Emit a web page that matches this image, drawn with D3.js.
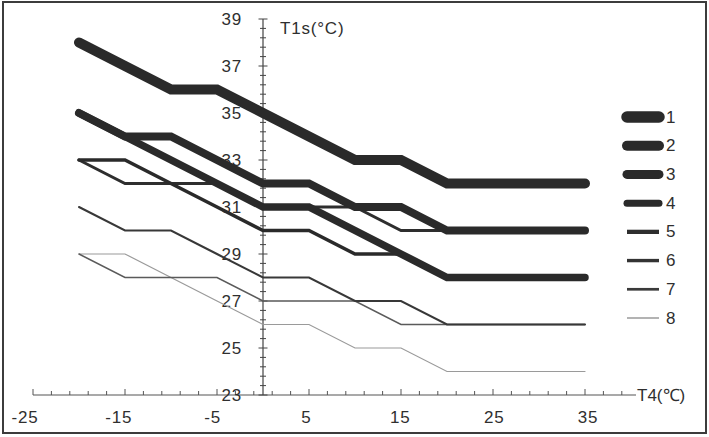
<!DOCTYPE html>
<html lang="en">
<head>
  <meta charset="UTF-8">
  <title>T1s vs T4</title>
  <script src="https://d3js.org/d3.v7.min.js"></script>
  <style>
    body { margin: 0; background: #fff; }
    svg { display: block; }
    text { font-family: "Liberation Sans", Arial, sans-serif; fill: #2f2f2f; }
  </style>
</head>
<body>
<script>
  // T4 break points (shared by all curves)
  const t4 = [-20, -15, -10, -5, 0, 5, 10, 15, 20, 35];

  // T1s values for each curve at the break points
  const curve1 = [38, 37, 36, 36, 35, 34, 33, 33, 32, 32];
  const curve2 = [35, 34, 34, 33, 32, 32, 31, 31, 30, 30];
  const curve3 = [35, 34, 33, 32, 31, 31, 30, 29, 28, 28];
  const curve4 = [33, 33, 32, 31, 30, 30, 29, 29, 28, 28];
  const curve5 = [33, 32, 32, 32, 31, 31, 31, 30, 30, 30];
  const curve6 = [31, 30, 30, 29, 28, 28, 27, 27, 26, 26];
  const curve7 = [29, 28, 28, 28, 27, 27, 27, 26, 26, 26];
  const curve8 = [29, 29, 28, 27, 26, 26, 25, 25, 24, 24];

  const curveNames = ["1", "2", "3", "4", "5", "6", "7", "8"];
  const xTickLabels = [-25, -15, -5, 5, 15, 25, 35];
  const yTickLabels = [23, 25, 27, 29, 31, 33, 35, 37, 39];

  const curves = [curve1, curve2, curve3, curve4, curve5, curve6, curve7, curve8];

  // line looks
  const lineWidth = [10, 8, 7.5, 3.6, 3, 2, 1.5, 1.2];
  const legendWidth = [11.5, 10, 9, 7, 4.3, 3.4, 2.7, 1.6];
  const lineColor = ["#2a2a2a", "#2a2a2a", "#2a2a2a", "#2a2a2a", "#2e2e2e", "#383838", "#5a5a5a", "#9a9a9a"];
  const legendColor = ["#2a2a2a", "#2a2a2a", "#2a2a2a", "#2a2a2a", "#2e2e2e", "#333", "#3a3a3a", "#a0a0a0"];

  const W = 709, H = 437;
  const svg = d3.select("body").append("svg")
    .attr("width", W)
    .attr("height", H);

  // outer frame
  svg.append("rect")
    .attr("x", 3).attr("y", 2)
    .attr("width", 703).attr("height", 431)
    .attr("fill", "#fff")
    .attr("stroke", "#3c3c3c")
    .attr("stroke-width", 2);

  const x = d3.scaleLinear().domain([-25, 35]).range([33, 585]);
  const y = d3.scaleLinear().domain([23, 39]).range([395, 19]);
  // tick labels in the original sit on a slightly different spacing
  const xLab = d3.scaleLinear().domain([-25, 35]).range([25, 588]);

  // x axis
  const xAxisG = svg.append("g");
  xAxisG.append("line")
    .attr("x1", x(-25)).attr("x2", 636)
    .attr("y1", y(23)).attr("y2", y(23))
    .attr("stroke", "#555").attr("stroke-width", 1.2);
  const xTicks = d3.range(-25, 40, 2);
  xAxisG.selectAll("line.tick").data(xTicks).join("line")
    .attr("class", "tick")
    .attr("x1", d => x(d)).attr("x2", d => x(d))
    .attr("y1", y(23))
    .attr("y2", d => y(23) - ((d + 25) % 10 === 0 ? 6 : 4))
    .attr("stroke", "#555").attr("stroke-width", 1);
  xAxisG.selectAll("text").data(xTickLabels).join("text")
    .attr("x", d => xLab(d))
    .attr("y", 417)
    .attr("text-anchor", "middle")
    .attr("dominant-baseline", "central")
    .attr("font-size", 17)
    .attr("letter-spacing", 0.8)
    .text(d => d);

  svg.append("text")
    .attr("x", 637).attr("y", 395)
    .attr("dominant-baseline", "central")
    .attr("font-size", 17)
    .text("T4(℃)");

  // y axis
  const yAxisG = svg.append("g");
  yAxisG.append("line")
    .attr("x1", x(0)).attr("x2", x(0))
    .attr("y1", y(23)).attr("y2", y(39))
    .attr("stroke", "#444").attr("stroke-width", 1.2);
  const yTicks = d3.range(0, 41).map(i => 23 + i * 0.4);
  yAxisG.selectAll("line.tick").data(yTicks).join("line")
    .attr("class", "tick")
    .attr("x1", (d, i) => x(0) - (i % 5 === 0 ? 4.5 : 3))
    .attr("x2", (d, i) => x(0) + (i % 5 === 0 ? 4.5 : 3))
    .attr("y1", d => y(d)).attr("y2", d => y(d))
    .attr("stroke", "#444").attr("stroke-width", 1);
  yAxisG.selectAll("text").data(yTickLabels).join("text")
    .attr("x", 242)
    .attr("y", d => y(d))
    .attr("text-anchor", "end")
    .attr("dominant-baseline", "central")
    .attr("font-size", 17)
    .attr("letter-spacing", 0.8)
    .text(d => d);

  svg.append("text")
    .attr("x", 280).attr("y", 28)
    .attr("dominant-baseline", "central")
    .attr("font-size", 17)
    .attr("letter-spacing", 0.8)
    .text("T1s(°C)");

  // curves, thin ones first so thick ones lie on top
  const line = d3.line()
    .x((d, i) => x(t4[i]))
    .y(d => y(d));

  const order = d3.range(curves.length).reverse();
  svg.append("g").selectAll("path").data(order).join("path")
    .attr("d", i => line(curves[i]))
    .attr("fill", "none")
    .attr("stroke", i => lineColor[i])
    .attr("stroke-width", i => lineWidth[i])
    .attr("stroke-linecap", "round")
    .attr("stroke-linejoin", "miter");

  // legend
  const legY = d3.scalePoint().domain(curveNames).range([117, 318]);
  const leg = svg.append("g");
  leg.selectAll("line").data(curveNames).join("line")
    .attr("x1", 627).attr("x2", 659)
    .attr("y1", d => legY(d)).attr("y2", d => legY(d))
    .attr("stroke", (d, i) => legendColor[i])
    .attr("stroke-width", (d, i) => legendWidth[i])
    .attr("stroke-linecap", (d, i) => i < 4 ? "round" : "butt");
  leg.selectAll("text").data(curveNames).join("text")
    .attr("x", 666)
    .attr("y", d => legY(d))
    .attr("dominant-baseline", "central")
    .attr("font-size", 17)
    .text(d => d);
</script>
</body>
</html>
